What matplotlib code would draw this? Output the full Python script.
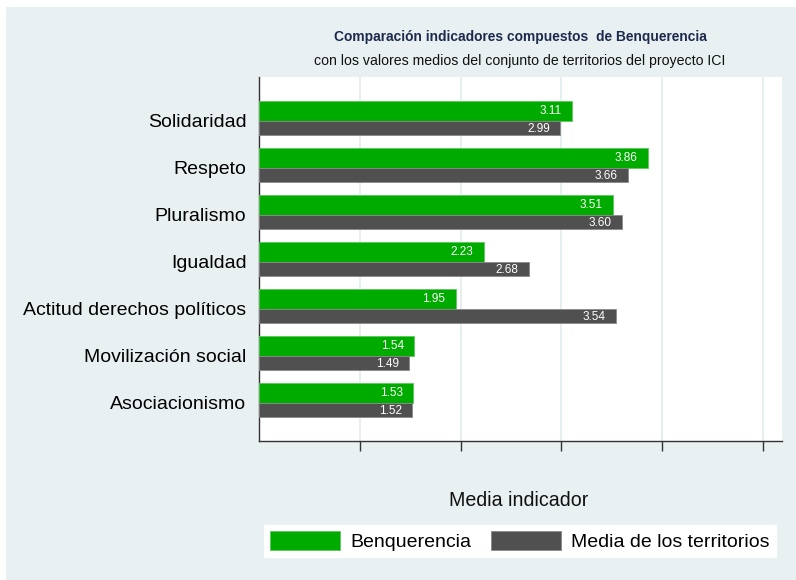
import matplotlib
matplotlib.use("Agg")
import matplotlib.pyplot as plt
from matplotlib.patches import Rectangle

plt.rcParams['font.family'] = ['Liberation Sans', 'DejaVu Sans']

categories = ["Solidaridad", "Respeto", "Pluralismo", "Igualdad",
              "Actitud derechos políticos", "Movilización social", "Asociacionismo"]
benquerencia = [3.11, 3.86, 3.51, 2.23, 1.95, 1.54, 1.53]
media_territorios = [2.99, 3.66, 3.60, 2.68, 3.54, 1.49, 1.52]
series_names = ["Benquerencia", "Media de los territorios"]

GREEN = "#00ab00"
GREY = "#505050"
BG = "#e8f0f2"

fig = plt.figure(figsize=(7.96, 5.8), dpi=100, facecolor=BG)
# thin white strips on top and left edge
fig.add_artist(Rectangle((0, 1 - 7 / 580), 1, 7 / 580, transform=fig.transFigure,
                         facecolor="white", edgecolor="none", zorder=-10))
fig.add_artist(Rectangle((0, 0), 6 / 796, 1, transform=fig.transFigure,
                         facecolor="white", edgecolor="none", zorder=-10))

ax = fig.add_axes([259 / 796, 1 - 441 / 580, (782 - 259) / 796, (441 - 77) / 580])
ax.set_facecolor("white")

h_green = 0.426
h_grey = 0.298
ypos = list(range(len(categories)))

bars_g = ax.barh([y - h_green for y in ypos], benquerencia, height=h_green, align="edge",
                 color=GREEN, edgecolor="#5cc85c", linewidth=0.6, label=series_names[0], zorder=3)
bars_m = ax.barh(ypos, media_territorios, height=h_grey, align="edge",
                 color=GREY, edgecolor="#8a8a8a", linewidth=0.6, label=series_names[1], zorder=3)

for b, v in zip(bars_g, benquerencia):
    ax.annotate(f"{v:.2f}", (b.get_width(), b.get_y() + b.get_height() / 2),
                xytext=(-7.5, 0), textcoords="offset points", ha="right", va="center",
                color="white", fontsize=8.5, zorder=4)
for b, v in zip(bars_m, media_territorios):
    ax.annotate(f"{v:.2f}", (b.get_width(), b.get_y() + b.get_height() / 2),
                xytext=(-7.5, -0.5), textcoords="offset points", ha="right", va="center",
                color="white", fontsize=8.5, zorder=4)

ax.set_xlim(0, 5.19)
ax.set_ylim(6.809, -0.936)
ax.set_xticks([1, 2, 3, 4, 5])
ax.set_xticklabels([])
ax.tick_params(axis="x", direction="out", length=7, width=1, color="#333333")
ax.set_yticks(ypos)
ax.set_yticklabels(categories, fontsize=14.0)
ax.tick_params(axis="y", length=0, pad=9)
ax.grid(axis="x", color="#e2ebee", linewidth=1.2, zorder=0)
ax.set_axisbelow(True)
for s in ["top", "right"]:
    ax.spines[s].set_visible(False)
for s in ["left", "bottom"]:
    ax.spines[s].set_color("#333333")
    ax.spines[s].set_linewidth(1)

fig.text(520 / 796, 1 - 37 / 580,
         "Comparación indicadores compuestos  de Benquerencia",
         ha="center", va="center", fontsize=9.9, fontweight="bold", color="#1c2a4c")
fig.text(520 / 796, 1 - 61 / 580,
         "con los valores medios del conjunto de territorios del proyecto ICI",
         ha="center", va="center", fontsize=10.2, color="#111111")
fig.text(519 / 796, 1 - 500 / 580, "Media indicador", ha="center", va="center",
         fontsize=14.1, color="#111111")

leg = fig.legend(handles=[bars_g, bars_m], labels=series_names, loc="center",
                 bbox_to_anchor=(520 / 796, 1 - 541 / 580), ncol=2, fontsize=14,
                 frameon=True, fancybox=False, handlelength=3.6, handleheight=1.08,
                 handletextpad=0.52, columnspacing=1.03, borderpad=0.3, borderaxespad=0)
leg.get_frame().set_facecolor("white")
leg.get_frame().set_edgecolor("white")
leg.get_frame().set_alpha(1)

fig.savefig("out.png", dpi=100, facecolor=fig.get_facecolor())
